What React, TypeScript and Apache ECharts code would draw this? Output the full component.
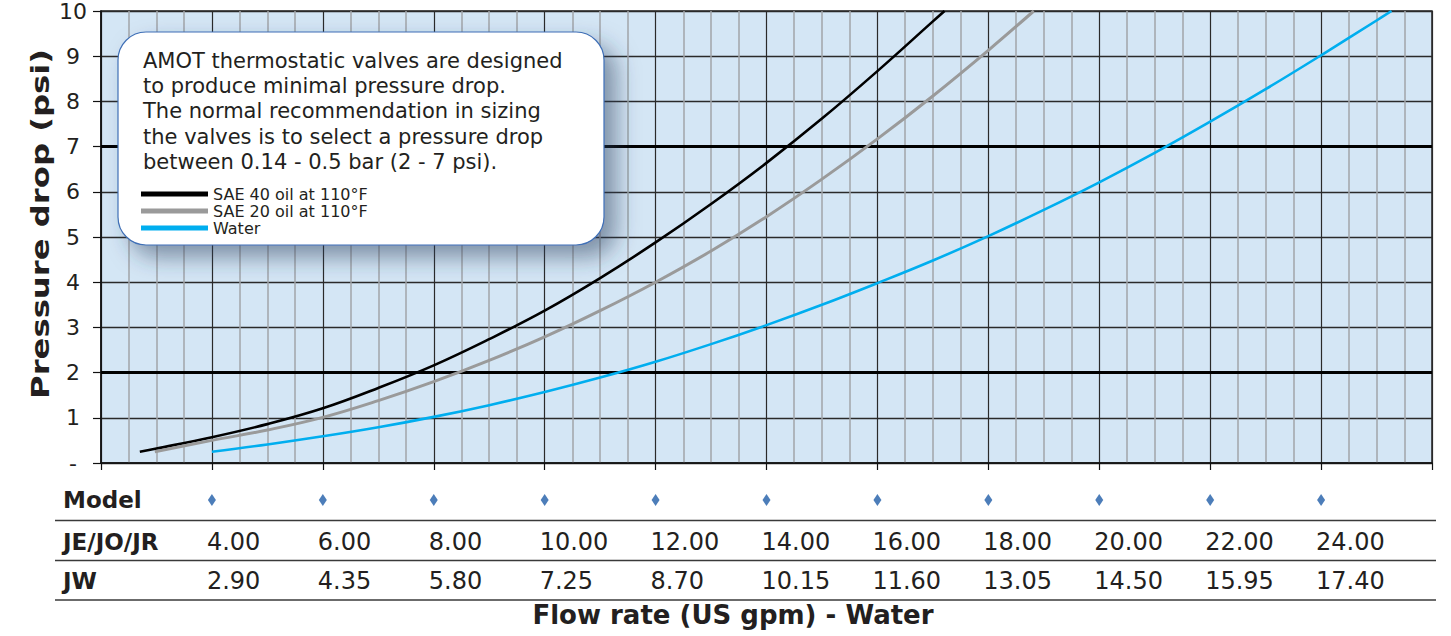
import React, { useEffect, useRef } from "react";
import * as echarts from "echarts";

// ---- data ----
const sae40: [number, number][] = [
  [2.7, 0.25], [3, 0.32], [4, 0.57], [5, 0.86], [6, 1.21], [7, 1.66], [8, 2.16],
  [9, 2.74], [10, 3.37], [11, 4.09], [12, 4.88], [13, 5.73], [14, 6.64],
  [15, 7.62], [16, 8.67], [17, 9.77], [17.21, 10],
];
const sae20: [number, number][] = [
  [2.97, 0.25], [4, 0.5], [5, 0.73], [6, 1.01], [7, 1.38], [8, 1.8], [9, 2.27],
  [10, 2.79], [11, 3.37], [12, 4.0], [13, 4.69], [14, 5.45], [15, 6.28],
  [16, 7.17], [17, 8.12], [18, 9.13], [18.82, 10],
];
const water: [number, number][] = [
  [4, 0.25], [5, 0.41], [6, 0.59], [7, 0.79], [8, 1.02], [9, 1.28], [10, 1.57],
  [11, 1.89], [12, 2.24], [13, 2.63], [14, 3.05], [15, 3.5], [16, 3.98],
  [17, 4.48], [18, 5.02], [19, 5.6], [20, 6.21], [21, 6.86], [22, 7.55],
  [23, 8.27], [24, 9.02], [25, 9.79], [25.27, 10],
];
const guideLevels = [2, 7];

const seriesNames = ["SAE 40 oil at 110°F", "SAE 20 oil at 110°F", "Water"];
const seriesColors = ["#000000", "#9a9a9a", "#00aeef"];

const yTickLabels = ["-", "1", "2", "3", "4", "5", "6", "7", "8", "9", "10"];
const flowTicks = [4, 6, 8, 10, 12, 14, 16, 18, 20, 22, 24];
const jeLabels = ["4.00", "6.00", "8.00", "10.00", "12.00", "14.00", "16.00", "18.00", "20.00", "22.00", "24.00"];
const jwLabels = ["2.90", "4.35", "5.80", "7.25", "8.70", "10.15", "11.60", "13.05", "14.50", "15.95", "17.40"];
const rowHeaders = ["Model", "JE/JO/JR", "JW"];

const boxLines = [
  "AMOT thermostatic valves are designed",
  "to produce minimal pressure drop.",
  "The normal recommendation in sizing",
  "the valves is to select a pressure drop",
  "between 0.14 - 0.5 bar (2 - 7 psi).",
];
const xTitle = "Flow rate (US gpm) - Water";
const yTitle = "Pressure drop (psi)";

const FONT = "DejaVu Sans";
const TXT = "#231f20";

function labelFor(list: string[]) {
  return (v: number) => {
    const i = flowTicks.indexOf(Math.round(v * 100) / 100);
    return i >= 0 ? list[i] : "";
  };
}

export default function App() {
  const ref = useRef<HTMLDivElement>(null);

  useEffect(() => {
    if (!ref.current) return;
    const chart = echarts.init(ref.current, undefined, { renderer: "svg" });

    const rowGridBase = { width: 1331, height: 20, outerBoundsMode: "none", containLabel: false };
    const hidden = { show: false };

    const rowX = (gridIndex: number, labels: string[] | null) => ({
      type: "value",
      gridIndex,
      min: 2,
      max: 26,
      interval: 2,
      axisLine: hidden,
      axisTick: hidden,
      splitLine: hidden,
      axisLabel: labels
        ? {
            show: true,
            formatter: labelFor(labels),
            margin: -10,
            verticalAlign: "middle",
            align: "left",
            fontSize: 24,
            fontFamily: FONT,
            color: TXT,
          }
        : hidden,
    });
    const rowY = (gridIndex: number, header: string, margin: number) => ({
      type: "category",
      gridIndex,
      data: [header],
      axisLine: hidden,
      axisTick: hidden,
      splitLine: hidden,
      axisLabel: {
        show: true,
        align: "left",
        margin,
        fontSize: 23,
        fontWeight: "bold",
        fontFamily: FONT,
        color: TXT,
      },
    });

    const option: any = {
      animation: false,
      textStyle: { fontFamily: FONT },
      grid: [
        {
          left: 101, top: 11, width: 1331, height: 452,
          show: true, backgroundColor: "#d4e6f5", borderColor: "#222", borderWidth: 1.5,
          outerBoundsMode: "none", containLabel: false,
        },
        { ...rowGridBase, left: 101, top: 490 },
        { ...rowGridBase, left: 96, top: 531.5 },
        { ...rowGridBase, left: 96, top: 571 },
      ],
      xAxis: [
        {
          type: "value",
          gridIndex: 0,
          min: 2,
          max: 26,
          interval: 2,
          axisLine: { show: true, lineStyle: { color: "#111", width: 1.5 } },
          axisTick: { show: true, length: 7, lineStyle: { color: "#111", width: 1.2 } },
          axisLabel: hidden,
          splitLine: { show: true, lineStyle: { color: "#2a2a2a", width: 1.2 } },
          minorTick: { show: false, splitNumber: 4 },
          minorSplitLine: { show: true, lineStyle: { color: "#a2a5a8", width: 1.5 } },
        },
        rowX(1, null),
        rowX(2, jeLabels),
        rowX(3, jwLabels),
      ],
      yAxis: [
        {
          type: "value",
          gridIndex: 0,
          min: 0,
          max: 10,
          interval: 1,
          axisLine: { show: true, lineStyle: { color: "#111", width: 1.5 } },
          axisTick: { show: true, length: 8, lineStyle: { color: "#111", width: 1.2 } },
          axisLabel: {
            formatter: (v: number) => yTickLabels[Math.round(v)] ?? "",
            fontSize: 22,
            color: TXT,
            align: "center",
            margin: 28,
            fontFamily: FONT,
          },
          splitLine: { show: true, lineStyle: { color: "#2a2a2a", width: 1.3 } },
        },
        rowY(1, rowHeaders[0], 38),
        rowY(2, rowHeaders[1], 33),
        rowY(3, rowHeaders[2], 33),
      ],
      legend: {
        orient: "vertical",
        left: 141,
        top: 186,
        padding: 0,
        itemWidth: 67,
        itemHeight: 5,
        itemGap: 1,
        icon: "rect",
        zlevel: 1,
        z: 30,
        data: seriesNames,
        textStyle: { fontSize: 16, lineHeight: 16, color: TXT, fontFamily: FONT },
      },
      graphic: [
        {
          type: "rect",
          zlevel: 1,
          z: 20,
          shape: { x: 118, y: 32, width: 486, height: 213, r: 28 },
          style: {
            fill: "#ffffff",
            stroke: "#3f6fb6",
            lineWidth: 1.2,
            shadowBlur: 22,
            shadowColor: "rgba(40,60,90,0.5)",
            shadowOffsetX: 12,
            shadowOffsetY: 12,
          },
        },
        {
          type: "text",
          zlevel: 1,
          z: 21,
          x: 143,
          y: 48,
          style: {
            text: boxLines.join("\n"),
            fontSize: 21,
            fontFamily: FONT,
            lineHeight: 25.3,
            fill: TXT,
            align: "left",
            verticalAlign: "top",
          },
        },
        {
          type: "text",
          z: 21,
          x: 40,
          y: 224,
          rotation: Math.PI / 2,
          scaleX: 1.29,
          style: {
            text: yTitle,
            fontSize: 25,
            fontWeight: "bold",
            fontFamily: FONT,
            fill: TXT,
            align: "center",
            verticalAlign: "middle",
          },
        },
        {
          type: "text",
          z: 21,
          x: 733,
          y: 615,
          style: {
            text: xTitle,
            fontSize: 26,
            fontWeight: "bold",
            fontFamily: FONT,
            fill: TXT,
            align: "center",
            verticalAlign: "middle",
          },
        },
        ...[520.5, 560.5, 600].map((y) => ({
          type: "line",
          z: 21,
          shape: { x1: 55, y1: y, x2: 1436, y2: y },
          style: { stroke: "#3a3a3a", lineWidth: 1.6 },
        })),
      ],
      series: [
        {
          type: "line",
          name: "guides",
          xAxisIndex: 0,
          yAxisIndex: 0,
          data: [],
          silent: true,
          markLine: {
            silent: true,
            symbol: "none",
            z: 2,
            label: { show: false },
            lineStyle: { color: "#000", width: 3, type: "solid" },
            data: guideLevels.map((v) => ({ yAxis: v })),
          },
        },
        ...[sae40, sae20, water].map((d, i) => ({
          type: "line",
          name: seriesNames[i],
          xAxisIndex: 0,
          yAxisIndex: 0,
          data: d,
          smooth: 0.4,
          showSymbol: false,
          symbol: "none",
          itemStyle: { color: seriesColors[i] },
          lineStyle: { color: seriesColors[i], width: i === 1 ? 3 : 2.6 },
          z: 3,
        })),
        {
          type: "scatter",
          name: "model marks",
          xAxisIndex: 1,
          yAxisIndex: 1,
          symbol: "diamond",
          symbolSize: [8, 12],
          itemStyle: { color: "#1f5ca8" },
          silent: true,
          data: flowTicks.map((v) => [v, 0]),
        },
      ],
    };

    chart.setOption(option);
    return () => chart.dispose();
  }, []);

  return (
    <div
      ref={ref}
      style={{ position: "absolute", left: 0, top: 0, width: 1451, height: 636 }}
    />
  );
}
